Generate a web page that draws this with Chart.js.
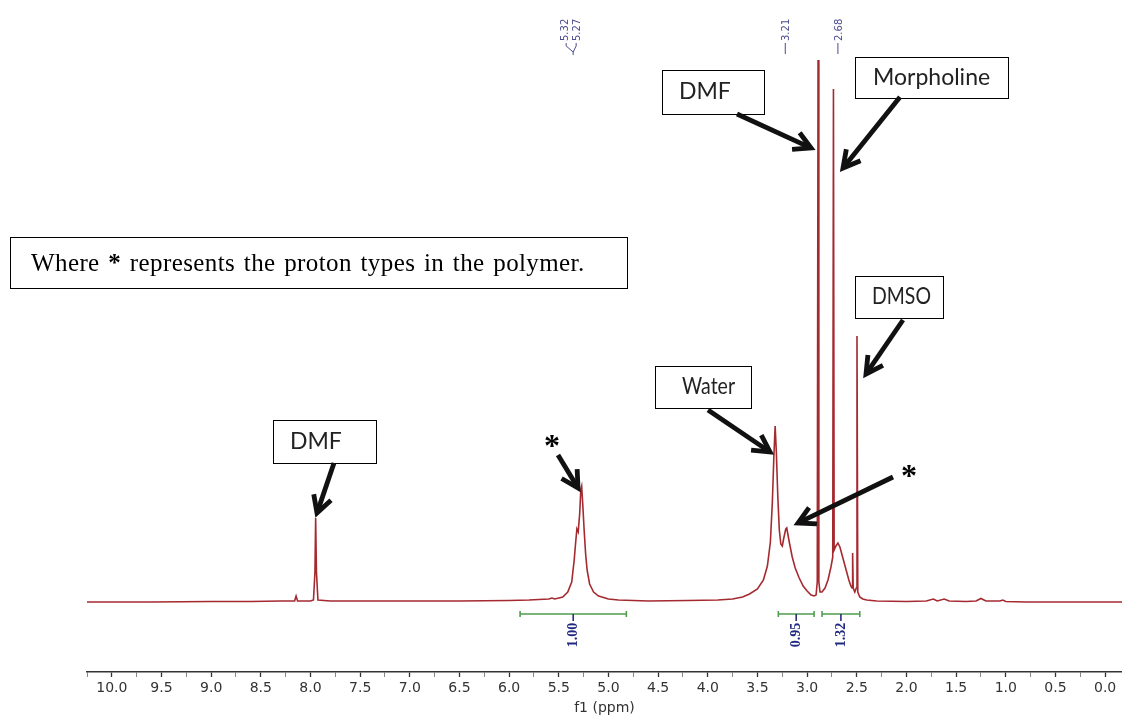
<!DOCTYPE html>
<html>
<head>
<meta charset="utf-8">
<title>1H NMR</title>
<script src="https://cdn.jsdelivr.net/npm/chart.js@4.4.1/dist/chart.umd.min.js"></script>
<style>
  html, body { margin: 0; padding: 0; background: #fff; }
  #wrap { width: 1122px; height: 718px; position: relative; }
</style>
</head>
<body>
<div id="wrap"><canvas id="nmrChart"></canvas></div>
<script>
// spectrum trace, chemical shift (ppm) and intensity (a.u.)
const shiftPpm = [
  10.25, 9.60, 9.00, 8.60, 8.30, 8.16, 8.145, 8.13, 8.00,
  7.97, 7.955, 7.948, 7.94, 7.925, 7.80, 7.20, 6.50, 6.00, 5.80,
  5.60, 5.57, 5.54, 5.46, 5.41, 5.37, 5.345, 5.33, 5.318, 5.305,
  5.29, 5.278, 5.27, 5.258, 5.245, 5.23, 5.215, 5.19, 5.15, 5.10,
  5.00, 4.90, 4.60, 4.20, 3.90, 3.75, 3.65, 3.58, 3.50, 3.44,
  3.40, 3.37, 3.35, 3.335, 3.322, 3.31, 3.295, 3.28, 3.265, 3.25,
  3.235, 3.215, 3.205, 3.18, 3.15, 3.12, 3.08, 3.04, 3.00, 2.96,
  2.93, 2.91, 2.898, 2.89, 2.882, 2.87, 2.85, 2.82, 2.79, 2.76,
  2.742, 2.735, 2.728, 2.71, 2.69, 2.67, 2.64, 2.61, 2.58, 2.56,
  2.548, 2.542, 2.536, 2.52, 2.505, 2.498, 2.49, 2.47, 2.44, 2.40,
  2.30, 2.00, 1.80, 1.73, 1.69, 1.62, 1.57, 1.40, 1.30, 1.25,
  1.20, 1.06, 1.03, 1.00, 0.80, 0.40, -0.17
];
const intensity = [
  0, 0, 0.5, 0.5, 1, 1, 6, 1, 1,
  2, 30, 84, 30, 2, 1, 1, 1, 1.5, 2,
  3, 4, 3, 5, 10, 20, 42, 60, 73, 70,
  88, 113, 116, 96, 72, 48, 32, 18, 10, 6,
  3, 2, 1, 1.5, 2, 3, 5, 8, 13, 22,
  36, 60, 100, 145, 176, 150, 105, 72, 58, 56,
  64, 73, 74, 60, 45, 34, 24, 16, 11, 7,
  6, 7, 20, 542, 20, 10, 10, 14, 22, 35,
  45, 513, 52, 56, 59, 55, 44, 33, 22, 16,
  14, 49, 14, 10, 14, 266, 10, 5, 3, 2,
  1, 0.5, 1, 3, 1, 3, 1, 0.5, 1, 3.5,
  1, 1, 2, 0.5, 0, 0, 0
];

// axis labels every 0.5 ppm
const tickPpm = [10.0, 9.5, 9.0, 8.5, 8.0, 7.5, 7.0, 6.5, 6.0, 5.5, 5.0,
                 4.5, 4.0, 3.5, 3.0, 2.5, 2.0, 1.5, 1.0, 0.5, 0.0];

// integration regions
const integralFrom = [5.89, 3.29, 2.85];
const integralTo = [4.82, 2.93, 2.47];
const integralValue = [1.00, 0.95, 1.32];

// picked peaks
const peakLabels = ['5.32', '5.27', '3.21', '2.68'];
const peakLabelPpm = [5.32, 5.27, 3.21, 2.68];

// callout boxes [x, y, w, h, text, text offset, text width]
const boxes = [
  [273, 420, 103, 43, 'DMF', 17, 53],
  [655, 366, 96, 42, 'Water', 27, 53],
  [662, 70, 102, 44, 'DMF', 17, 53],
  [855, 57, 153, 41, 'Morpholine', 18, 120],
  [855, 276, 88, 42, 'DMSO', 17, 59]
];
// arrows [x1, y1, x2, y2]
const arrows = [
  [334, 463, 317, 513],
  [558, 455, 578, 488],
  [708, 410, 770, 452],
  [737, 114, 811, 148],
  [900, 97, 843, 168],
  [903, 320, 866, 374],
  [893, 477, 798, 523]
];

function drawArrow(ctx, x1, y1, x2, y2) {
  const a = Math.atan2(y2 - y1, x2 - x1);
  const len = 19;
  ctx.save();
  ctx.strokeStyle = '#111';
  ctx.lineWidth = 4.8;
  ctx.lineCap = 'butt';
  ctx.lineJoin = 'miter';
  ctx.beginPath();
  ctx.moveTo(x1, y1);
  ctx.lineTo(x2 - 2 * Math.cos(a), y2 - 2 * Math.sin(a));
  ctx.stroke();
  ctx.beginPath();
  ctx.moveTo(x2 - len * Math.cos(a - 0.5), y2 - len * Math.sin(a - 0.5));
  ctx.lineTo(x2, y2);
  ctx.lineTo(x2 - len * Math.cos(a + 0.5), y2 - len * Math.sin(a + 0.5));
  ctx.stroke();
  ctx.restore();
}

const annotations = {
  id: 'annotations',
  afterDraw(chart) {
    const ctx = chart.ctx;
    const xs = chart.scales.x;
    const ys = chart.scales.y;

    // integrals
    ctx.save();
    for (let i = 0; i < integralFrom.length; i++) {
      const xa = xs.getPixelForValue(integralFrom[i]);
      const xb = xs.getPixelForValue(integralTo[i]);
      const y = ys.getPixelForValue(-12);
      const xm = (xa + xb) / 2;
      ctx.strokeStyle = '#4f9f4f';
      ctx.lineWidth = 1.6;
      ctx.beginPath();
      ctx.moveTo(xa, y); ctx.lineTo(xb, y);
      ctx.moveTo(xa, y - 3); ctx.lineTo(xa, y + 3);
      ctx.moveTo(xb, y - 3); ctx.lineTo(xb, y + 3);
      ctx.stroke();
      ctx.strokeStyle = '#2a2f7a';
      ctx.beginPath();
      ctx.moveTo(xm, y); ctx.lineTo(xm, y + 7);
      ctx.stroke();
      ctx.save();
      ctx.translate(xm, y + 21);
      ctx.rotate(-Math.PI / 2);
      ctx.fillStyle = '#1f2a80';
      ctx.font = 'bold 14px "Liberation Serif"';
      ctx.textAlign = 'center';
      ctx.textBaseline = 'middle';
      ctx.fillText(integralValue[i].toFixed(2), 0, 0);
      ctx.restore();
    }
    ctx.restore();

    // peak labels along the top
    ctx.save();
    ctx.fillStyle = '#4b4b8f';
    ctx.strokeStyle = '#4b4b8f';
    ctx.lineWidth = 1;
    ctx.font = '10px "DejaVu Sans"';
    const pairX = (xs.getPixelForValue(5.32) + xs.getPixelForValue(5.27)) / 2 - 8;
    const labelX = [pairX - 6, pairX + 6,
                    xs.getPixelForValue(peakLabelPpm[2]),
                    xs.getPixelForValue(peakLabelPpm[3])];
    for (let i = 0; i < peakLabels.length; i++) {
      ctx.save();
      ctx.translate(labelX[i] + 3, 41);
      ctx.rotate(-Math.PI / 2);
      ctx.textAlign = 'left';
      ctx.textBaseline = 'alphabetic';
      ctx.fillText(peakLabels[i], 0, 0);
      ctx.restore();
    }
    ctx.beginPath();
    ctx.moveTo(labelX[0] + 1, 43); ctx.lineTo(labelX[0] + 1, 46);
    ctx.lineTo(labelX[0] + 8, 52); ctx.lineTo(labelX[0] + 8, 55);
    ctx.moveTo(labelX[1] - 1, 43); ctx.lineTo(labelX[1] - 1, 46);
    ctx.lineTo(labelX[0] + 8, 52);
    ctx.moveTo(labelX[2] - 1, 43); ctx.lineTo(labelX[2] - 1, 54);
    ctx.moveTo(labelX[3] - 1, 43); ctx.lineTo(labelX[3] - 1, 54);
    ctx.stroke();
    ctx.restore();

    // note box
    ctx.save();
    ctx.fillStyle = '#fff';
    ctx.fillRect(10, 237, 617, 51);
    ctx.strokeStyle = '#000';
    ctx.lineWidth = 1;
    ctx.strokeRect(10.5, 237.5, 617, 51);
    ctx.fillStyle = '#000';
    ctx.textBaseline = 'alphabetic';
    ctx.textAlign = 'left';
    ctx.letterSpacing = '0.4px';
    ctx.wordSpacing = '2px';
    let tx = 31;
    const ty = 271;
    ctx.font = '25px "Liberation Serif"';
    ctx.fillText('Where ', tx, ty);
    tx += ctx.measureText('Where ').width;
    ctx.font = 'bold 25px "Liberation Serif"';
    ctx.fillText('*', tx, ty);
    tx += ctx.measureText('*').width;
    ctx.font = '25px "Liberation Serif"';
    ctx.fillText(' represents the proton types in the polymer.', tx, ty);
    ctx.restore();

    // callout boxes
    ctx.save();
    for (const [bx, by, bw, bh, label, off, tw] of boxes) {
      ctx.fillStyle = '#fff';
      ctx.fillRect(bx, by, bw, bh);
      ctx.strokeStyle = '#000';
      ctx.lineWidth = 1;
      ctx.strokeRect(bx + 0.5, by + 0.5, bw, bh);
      ctx.fillStyle = '#222';
      ctx.font = '23px Lato';
      ctx.textAlign = 'left';
      ctx.textBaseline = 'middle';
      ctx.fillText(label, bx + off, by + bh / 2, tw);
    }
    ctx.restore();

    // stars and arrows
    ctx.save();
    ctx.fillStyle = '#000';
    ctx.font = 'bold 32px "Liberation Serif"';
    ctx.textAlign = 'center';
    ctx.textBaseline = 'alphabetic';
    ctx.fillText('*', 552, 456);
    ctx.fillText('*', 909, 486);
    ctx.restore();
    for (const a of arrows) drawArrow(ctx, a[0], a[1], a[2], a[3]);
  }
};

const ctx = document.getElementById('nmrChart').getContext('2d');
const nmrChart = new Chart(ctx, {
  type: 'line',
  data: {
    datasets: [{
      label: '1H',
      data: shiftPpm.map((p, i) => ({ x: p, y: intensity[i] })),
      borderColor: '#a52a30',
      borderWidth: 1.6,
      pointRadius: 0,
      tension: 0,
      fill: false
    }]
  },
  options: {
    responsive: true,
    maintainAspectRatio: false,
    animation: false,
    layout: { padding: { left: 87, right: 0, top: 0, bottom: 0 } },
    plugins: {
      legend: { display: false },
      tooltip: { enabled: false }
    },
    scales: {
      x: {
        type: 'linear',
        reverse: true,
        min: -0.17,
        max: 10.25,
        afterFit: (scale) => { scale.height = 46; },
        border: { display: true, color: '#333', width: 1.5 },
        grid: {
          drawOnChartArea: false,
          drawTicks: true,
          tickLength: 5,
          tickColor: (c) => (tickPpm.includes(c.tick.value) ? '#333' : '#888'),
          tickWidth: (c) => (tickPpm.includes(c.tick.value) ? 1.3 : 1)
        },
        ticks: {
          stepSize: 0.25,
          includeBounds: false,
          autoSkip: false,
          maxRotation: 0,
          padding: 3,
          color: '#333',
          font: { family: '"DejaVu Sans"', size: 14 },
          callback: (v) => (tickPpm.includes(v) ? v.toFixed(1) : '')
        },
        title: {
          display: true,
          text: 'f1 (ppm)',
          color: '#333',
          font: { family: '"DejaVu Sans"', size: 14 },
          padding: { top: 0, bottom: 1 }
        }
      },
      y: {
        display: false,
        min: -70,
        max: 602
      }
    }
  },
  plugins: [annotations]
});
</script>
</body>
</html>
